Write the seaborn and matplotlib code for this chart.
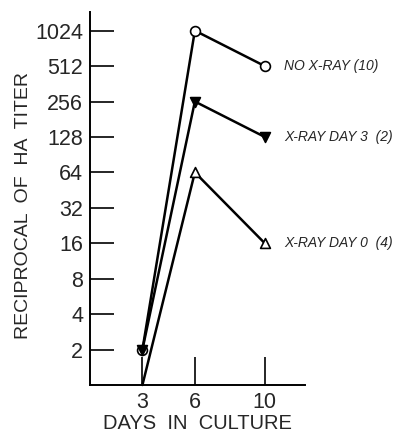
import matplotlib
matplotlib.use("Agg")
import matplotlib.pyplot as plt
import seaborn as sns
import pandas as pd

days = [3, 6, 10]
no_xray = [2, 1024, 512]
xray_day3 = [2, 256, 128]
xray_day0 = [1, 64, 16]
series_labels = ["NO X-RAY (10)", "X-RAY DAY 3  (2)", "X-RAY DAY 0  (4)"]
y_ticks = [2, 4, 8, 16, 32, 64, 128, 256, 512, 1024]
x_ticks = [3, 6, 10]

sns.set_theme(style="white")
plt.rcParams['font.family'] = ['Liberation Sans', 'DejaVu Sans']

rows = []
for lab, vals in zip(series_labels, [no_xray, xray_day3, xray_day0]):
    for d, v in zip(days, vals):
        rows.append({"day": d, "titer": v, "group": lab})
df = pd.DataFrame(rows)

fig = plt.figure(figsize=(4.11, 4.37), dpi=100)
ax = fig.add_axes([0.219, 0.119, 0.523, 0.854])

markers = {series_labels[0]: "o", series_labels[1]: "v", series_labels[2]: "^"}
for lab in series_labels:
    sub = df[df["group"] == lab]
    sns.lineplot(data=sub, x="day", y="titer", ax=ax, color="black", lw=1.8,
                 legend=False, clip_on=False, zorder=3)
    mk = markers[lab]
    face = "black" if mk == "v" else "white"
    pts = sub[sub["titer"] > 1]
    sns.scatterplot(data=pts, x="day", y="titer", ax=ax, marker=mk, s=50,
                    facecolor=face, edgecolor="black", linewidth=1.2,
                    legend=False, zorder=4, clip_on=False)
    last = sub.iloc[-1]
    ax.text(last["day"] + 1.1, last["titer"], lab, fontsize=10, style="italic",
            va="center", ha="left")

ax.set_yscale("log", base=2)
ax.set_ylim(1, 1480)
ax.set_xlim(0, 12.3)
ax.set_yticks(y_ticks)
ax.set_yticklabels([str(v) for v in y_ticks])
ax.minorticks_off()
ax.set_xticks(x_ticks)
ax.set_xticklabels([str(v) for v in x_ticks])
ax.tick_params(axis="y", direction="in", length=17, width=1.4, labelsize=15.5, pad=5, left=True)
ax.tick_params(axis="x", direction="in", length=20, width=1.4, labelsize=15.5, pad=5, bottom=True)
for s in ["top", "right"]:
    ax.spines[s].set_visible(False)
for s in ["left", "bottom"]:
    ax.spines[s].set_color("black")
    ax.spines[s].set_linewidth(1.4)
ax.set_xlabel("DAYS  IN  CULTURE", fontsize=14.5, labelpad=1)
ax.set_ylabel("RECIPROCAL  OF  HA  TITER", fontsize=14)
ax.yaxis.set_label_coords(-0.27, 0.48)
ax.set_facecolor("white")

fig.savefig("out.png", dpi=100, facecolor="white")
